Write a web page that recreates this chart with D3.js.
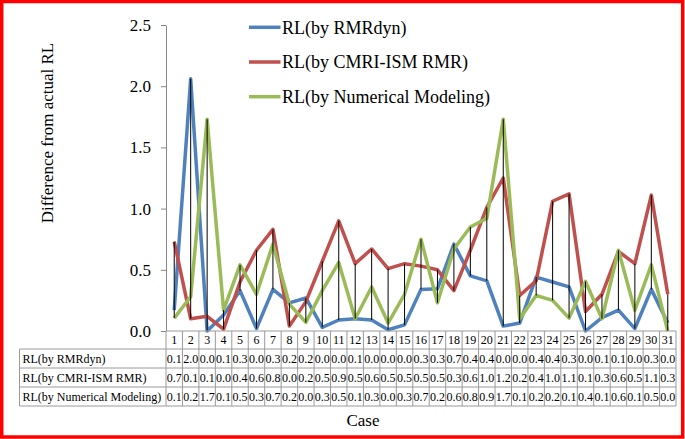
<!DOCTYPE html>
<html>
<head>
<meta charset="utf-8">
<script src="https://cdn.jsdelivr.net/npm/d3@7"></script>
<style>
  html, body { margin: 0; padding: 0; background: #fff; }
  svg { display: block; font-family: "Liberation Serif", "Times New Roman", serif; }
</style>
</head>
<body>
<svg id="chart" width="685" height="439"></svg>
<script>
// Case numbers along the x axis
const cases = d3.range(1, 32);

// Difference from actual RL, one value per case
const rmrDyn = [0.17, 2.06, 0.00, 0.13, 0.33, 0.02, 0.34, 0.23, 0.27, 0.03, 0.09,
  0.10, 0.09, 0.01, 0.05, 0.34, 0.345, 0.71, 0.45, 0.41, 0.04, 0.065, 0.44, 0.40,
  0.36, 0.00, 0.11, 0.17, 0.02, 0.34, 0.065];
const cmriIsm = [0.73, 0.10, 0.12, 0.015, 0.40, 0.66, 0.83, 0.04, 0.24, 0.57, 0.90,
  0.55, 0.67, 0.51, 0.55, 0.53, 0.50, 0.33, 0.66, 1.01, 1.25, 0.29, 0.41, 1.06,
  1.12, 0.16, 0.30, 0.65, 0.55, 1.11, 0.30];
const numerical = [0.105, 0.28, 1.73, 0.17, 0.54, 0.30, 0.71, 0.22, 0.07, 0.33, 0.56,
  0.10, 0.36, 0.065, 0.30, 0.75, 0.23, 0.67, 0.85, 0.92, 1.73, 0.10, 0.29, 0.25,
  0.105, 0.405, 0.10, 0.66, 0.17, 0.54, 0.00];

const seriesNames = ['RL(by RMRdyn)', 'RL(by CMRI-ISM RMR)', 'RL(by Numerical Modeling)'];
const seriesColors = ['#4F81BD', '#C0504D', '#9BBB59'];
const yTicks = [0, 0.5, 1.0, 1.5, 2.0, 2.5];

const series = [rmrDyn, cmriIsm, numerical].map((vals, i) => ({
  name: seriesNames[i],
  color: seriesColors[i],
  values: vals
}));

const svg = d3.select('#chart');

// Plot area
const x = d3.scaleBand().domain(cases).range([166, 676]);
const y = d3.scaleLinear().domain([0, 2.5]).range([331, 25]);
const cx = c => x(c) + x.bandwidth() / 2;

// Y axis
const yAxis = svg.append('g')
  .attr('transform', 'translate(166,0)')
  .call(d3.axisLeft(y).tickValues(yTicks).tickFormat(d3.format('.1f'))
    .tickSize(5).tickSizeOuter(0).tickPadding(10));
yAxis.select('.domain').attr('stroke', '#868686');
yAxis.selectAll('.tick line').attr('stroke', '#868686');
yAxis.selectAll('.tick text')
  .attr('font-size', 17)
  .attr('font-family', '"Liberation Serif", serif')
  .attr('fill', '#000');

svg.append('text')
  .attr('transform', 'translate(53,133) rotate(-90)')
  .attr('text-anchor', 'middle')
  .attr('font-size', 17)
  .text('Difference from actual RL');

// Series lines
const line = d3.line()
  .x((d, i) => cx(cases[i]))
  .y(d => y(d));

svg.append('g').selectAll('path')
  .data(series)
  .join('path')
  .attr('d', d => line(d.values))
  .attr('fill', 'none')
  .attr('stroke', d => d.color)
  .attr('stroke-width', 3.5)
  .attr('stroke-linejoin', 'round');

// High-low lines
svg.append('g').selectAll('line')
  .data(cases)
  .join('line')
  .attr('x1', c => cx(c))
  .attr('x2', c => cx(c))
  .attr('y1', (c, i) => y(d3.max(series, s => s.values[i])))
  .attr('y2', (c, i) => y(d3.min(series, s => s.values[i])))
  .attr('stroke', '#000')
  .attr('stroke-width', 1);

// Legend
const legend = svg.append('g').selectAll('g')
  .data(series)
  .join('g')
  .attr('transform', (d, i) => `translate(249,${27.3 + i * 34.7})`);
legend.append('line')
  .attr('x1', 0).attr('x2', 31.5)
  .attr('stroke', d => d.color)
  .attr('stroke-width', 3.5);
legend.append('text')
  .attr('x', 33)
  .attr('dy', '0.35em')
  .attr('font-size', 18)
  .text(d => d.name);

// Data table
const fmt = v => (Math.floor(v * 10 + 1e-6) / 10).toFixed(1);
const gridColor = '#9a9a9a';
const headTop = 331, headBottom = 349, rowH = 19;
const labelLeft = 19.5;
const tableBottom = headBottom + rowH * series.length;
const table = svg.append('g');

// horizontal rules
table.append('line')
  .attr('x1', 166).attr('x2', 676)
  .attr('y1', headTop).attr('y2', headTop)
  .attr('stroke', gridColor);
d3.range(series.length + 1).forEach(r => {
  table.append('line')
    .attr('x1', labelLeft).attr('x2', 676)
    .attr('y1', headBottom + r * rowH).attr('y2', headBottom + r * rowH)
    .attr('stroke', gridColor);
});
// vertical rules
table.append('line')
  .attr('x1', labelLeft).attr('x2', labelLeft)
  .attr('y1', headBottom).attr('y2', tableBottom)
  .attr('stroke', gridColor);
table.selectAll('.col')
  .data(cases.concat(['end']))
  .join('line')
  .attr('class', 'col')
  .attr('x1', c => c === 'end' ? 676 : x(c))
  .attr('x2', c => c === 'end' ? 676 : x(c))
  .attr('y1', headTop).attr('y2', tableBottom)
  .attr('stroke', gridColor);

// header numbers
table.selectAll('.head')
  .data(cases)
  .join('text')
  .attr('class', 'head')
  .attr('x', c => cx(c))
  .attr('y', (headTop + headBottom) / 2)
  .attr('dy', '0.35em')
  .attr('text-anchor', 'middle')
  .attr('font-size', 12)
  .text(c => c);

series.forEach((s, r) => {
  const yMid = headBottom + r * rowH + rowH / 2;
  table.append('text')
    .attr('x', labelLeft + 3)
    .attr('y', yMid)
    .attr('dy', '0.35em')
    .attr('font-size', 12)
    .text(s.name);
  table.selectAll('.v' + r)
    .data(s.values)
    .join('text')
    .attr('class', 'v' + r)
    .attr('x', (v, i) => cx(cases[i]))
    .attr('y', yMid)
    .attr('dy', '0.35em')
    .attr('text-anchor', 'middle')
    .attr('font-size', 12)
    .text(v => fmt(v));
});

// X axis title
svg.append('text')
  .attr('x', 363)
  .attr('y', 420)
  .attr('dy', '0.35em')
  .attr('text-anchor', 'middle')
  .attr('font-size', 17)
  .text('Case');

// Red frame
svg.append('rect')
  .attr('x', 1.7).attr('y', 1.5)
  .attr('width', 681).attr('height', 435.5)
  .attr('fill', 'none')
  .attr('stroke', '#FF0000')
  .attr('stroke-width', 3.5);
</script>
</body>
</html>
